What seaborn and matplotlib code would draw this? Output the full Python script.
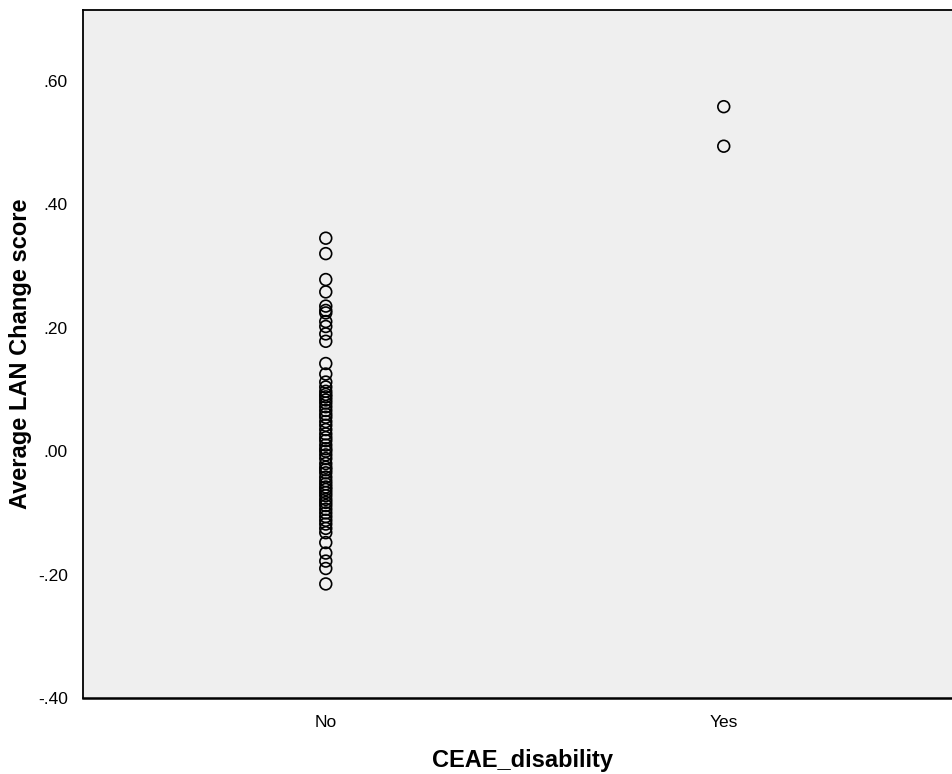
import numpy as np
import pandas as pd
import seaborn as sns
import matplotlib.pyplot as plt

# values
no_scores = [0.345, 0.320, 0.278, 0.258, 0.235, 0.228, 0.224, 0.210, 0.202, 0.190,
             0.178, 0.142, 0.125, 0.112, 0.104, 0.097, 0.092, 0.088, 0.083, 0.078,
             0.072, 0.066, 0.060, 0.055, 0.048, 0.042, 0.035, 0.028, 0.022, 0.017,
             0.010, 0.004, 0.000, -0.006, -0.012, -0.020, -0.026, -0.030, -0.035,
             -0.042, -0.048, -0.053, -0.058, -0.062, -0.067, -0.072, -0.078, -0.083,
             -0.088, -0.094, -0.100, -0.106, -0.112, -0.118, -0.125, -0.132, -0.148,
             -0.165, -0.178, -0.190, -0.215]
yes_scores = [0.558, 0.494]
categories = ["No", "Yes"]
y_ticks = [-0.40, -0.20, 0.00, 0.20, 0.40, 0.60]
y_tick_labels = ["-.40", "-.20", ".00", ".20", ".40", ".60"]

df = pd.DataFrame({
    "group": ["No"] * len(no_scores) + ["Yes"] * len(yes_scores),
    "score": no_scores + yes_scores,
})
df["x"] = df["group"].map({c: i for i, c in enumerate(categories)})

sns.set_style("white")
plt.rcParams["font.family"] = ["Liberation Sans", "DejaVu Sans"]
plt.rcParams["text.color"] = "black"
plt.rcParams["axes.labelcolor"] = "black"
plt.rcParams["xtick.color"] = "black"
plt.rcParams["ytick.color"] = "black"

fig = plt.figure(figsize=(9.53, 7.74), dpi=100)
ax = fig.add_axes([0.0871, 0.098, 0.9129 + 0.01, 0.889])
ax.set_facecolor("#efefef")

sns.scatterplot(data=df, x="x", y="score", ax=ax, s=72, marker="o",
                facecolor="none", edgecolor="black", linewidth=1.2, legend=False)

ax.set_xlim(-0.61, 1.60)
ax.set_ylim(-0.395, 0.7145)
ax.set_xticks(range(len(categories)))
ax.set_xticklabels(categories)
ax.set_yticks(y_ticks)
ax.set_yticklabels(y_tick_labels)
ax.tick_params(axis="both", length=0, labelsize=12.5)
ax.tick_params(axis="y", pad=11)
ax.tick_params(axis="x", pad=12)

for side in ["left", "top", "bottom"]:
    ax.spines[side].set_color("black")
    ax.spines[side].set_linewidth(1.3)
ax.spines["bottom"].set_linewidth(1.8)
ax.spines["right"].set_visible(False)

ax.set_xlabel("CEAE_disability", fontsize=17, fontweight="bold", labelpad=14)
ax.set_ylabel("Average LAN Change score", fontsize=17, fontweight="bold", labelpad=4)

fig.savefig("out.png", dpi=100)
